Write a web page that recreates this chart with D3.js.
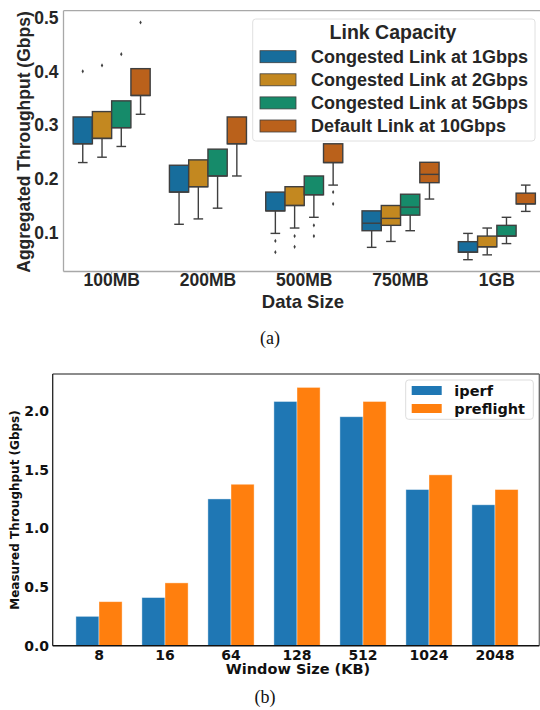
<!DOCTYPE html>
<html><head><meta charset="utf-8">
<script src="https://cdn.jsdelivr.net/npm/d3@7"></script>
<style>body{margin:0;background:#fff}svg{display:block}</style>
</head><body>
<svg id="c" width="540" height="710"></svg>
<script>
// ---------- Chart (a): box plot ----------
const dataSizes = ["100MB", "200MB", "500MB", "750MB", "1GB"];
const linkCapacities = ["Congested Link at 1Gbps", "Congested Link at 2Gbps", "Congested Link at 5Gbps", "Default Link at 10Gbps"];
const boxColors = ["#176d9c", "#c38820", "#168b6a", "#ba611b"];
// rows = link capacity, columns = data size
const whiskerLow = [
  [0.230, 0.115, 0.098, 0.072, 0.049],
  [0.240, 0.125, 0.108, 0.083, 0.058],
  [0.260, 0.145, 0.128, 0.103, 0.079],
  [0.320, 0.205, 0.188, 0.162, 0.139]
];
const q1 = [
  [0.265, 0.175, 0.140, 0.103, 0.063],
  [0.275, 0.185, 0.150, 0.113, 0.073],
  [0.295, 0.205, 0.170, 0.132, 0.093],
  [0.355, 0.265, 0.230, 0.1925, 0.153]
];
const median = [
  [0.265, 0.175, 0.140, 0.117, 0.063],
  [0.275, 0.185, 0.150, 0.126, 0.073],
  [0.295, 0.205, 0.170, 0.147, 0.093],
  [0.355, 0.265, 0.230, 0.208, 0.153]
];
const q3 = [
  [0.315, 0.225, 0.175, 0.140, 0.0826],
  [0.325, 0.235, 0.185, 0.150, 0.093],
  [0.345, 0.255, 0.205, 0.171, 0.113],
  [0.405, 0.315, 0.265, 0.2305, 0.173]
];
const whiskerHigh = [
  [0.315, 0.225, 0.175, 0.140, 0.098],
  [0.325, 0.235, 0.185, 0.150, 0.108],
  [0.345, 0.255, 0.205, 0.171, 0.128],
  [0.405, 0.315, 0.265, 0.2305, 0.188]
];
const outliers = [
  [[0.400], [], [0.084, 0.063], [], []],
  [[0.411], [], [0.093, 0.073], [], []],
  [[0.432], [], [0.113, 0.093], [], []],
  [[0.491], [], [0.175, 0.153], [], []]
];
const yTicksA = [0.1, 0.2, 0.3, 0.4, 0.5];

// ---------- Chart (b): grouped bars ----------
const windowSizes = ["8", "16", "64", "128", "512", "1024", "2048"];
const iperf = [0.25, 0.41, 1.25, 2.08, 1.95, 1.33, 1.20];
const preflight = [0.375, 0.535, 1.375, 2.20, 2.08, 1.455, 1.33];
const barSeries = ["iperf", "preflight"];
const barColors = ["#1f77b4", "#ff7f0e"];
const yTicksB = [0.0, 0.5, 1.0, 1.5, 2.0];

const svg = d3.select("#c");
const fa = "'Liberation Sans', Arial, sans-serif";
const fb = "'DejaVu Sans', sans-serif";

// ===== (a) =====
const A = {l: 63.5, r: 545, t: 10.7, b: 271.5};
const xA = d3.scaleBand().domain(dataSizes).range([A.l, A.r]).padding(0);
const hueA = d3.scaleBand().domain(linkCapacities).range([0, xA.bandwidth() * 0.8]);
const yA = d3.scaleLinear().domain([0.027, 0.513]).range([A.b, A.t]);
const gA = svg.append("g");
const frameCol = "#a8a8a8";
gA.append("line").attr("x1", A.l).attr("x2", A.r).attr("y1", A.t).attr("y2", A.t).attr("stroke", frameCol).attr("stroke-width", 1.3);
gA.append("line").attr("x1", A.l).attr("x2", A.r).attr("y1", A.b).attr("y2", A.b).attr("stroke", frameCol).attr("stroke-width", 1.3);
gA.append("line").attr("x1", A.l).attr("x2", A.l).attr("y1", A.t).attr("y2", A.b).attr("stroke", frameCol).attr("stroke-width", 1.3);
gA.append("line").attr("x1", A.r).attr("x2", A.r).attr("y1", A.t).attr("y2", A.b).attr("stroke", frameCol).attr("stroke-width", 1.3);

const lineCol = "#3f3f3f";
linkCapacities.forEach((h, hi) => {
  dataSizes.forEach((c, ci) => {
    const bw = hueA.bandwidth();
    const x0 = xA(c) + xA.bandwidth() * 0.1 + hueA(h);
    const xc = x0 + bw / 2;
    const g = gA.append("g");
    // whiskers
    g.append("line").attr("x1", xc).attr("x2", xc).attr("y1", yA(q1[hi][ci])).attr("y2", yA(whiskerLow[hi][ci])).attr("stroke", lineCol).attr("stroke-width", 1.4);
    g.append("line").attr("x1", xc).attr("x2", xc).attr("y1", yA(q3[hi][ci])).attr("y2", yA(whiskerHigh[hi][ci])).attr("stroke", lineCol).attr("stroke-width", 1.4);
    g.append("line").attr("x1", xc - bw / 4).attr("x2", xc + bw / 4).attr("y1", yA(whiskerLow[hi][ci])).attr("y2", yA(whiskerLow[hi][ci])).attr("stroke", lineCol).attr("stroke-width", 1.4);
    if (whiskerHigh[hi][ci] > q3[hi][ci])
      g.append("line").attr("x1", xc - bw / 4).attr("x2", xc + bw / 4).attr("y1", yA(whiskerHigh[hi][ci])).attr("y2", yA(whiskerHigh[hi][ci])).attr("stroke", lineCol).attr("stroke-width", 1.4);
    // box
    g.append("rect").attr("x", x0).attr("width", bw).attr("y", yA(q3[hi][ci])).attr("height", yA(q1[hi][ci]) - yA(q3[hi][ci]))
      .attr("fill", boxColors[hi]).attr("stroke", lineCol).attr("stroke-width", 1.4);
    g.append("line").attr("x1", x0).attr("x2", x0 + bw).attr("y1", yA(median[hi][ci])).attr("y2", yA(median[hi][ci])).attr("stroke", lineCol).attr("stroke-width", 1.4);
    // outliers
    outliers[hi][ci].forEach(v => {
      g.append("path").attr("d", d3.symbol(d3.symbolDiamond, 5)()).attr("transform", `translate(${xc},${yA(v)})`).attr("fill", lineCol);
    });
  });
});
// axes text (a)
yTicksA.forEach(t => {
  gA.append("text").attr("x", 58.5).attr("y", yA(t)).attr("dy", "0.36em").attr("text-anchor", "end")
    .attr("font-family", fa).attr("font-weight", "bold").attr("font-size", 17.5).attr("fill", "#262626").text(d3.format(".1f")(t));
});
dataSizes.forEach(c => {
  const xc = xA(c) + xA.bandwidth() / 2;
  gA.append("line").attr("x1", xc).attr("x2", xc).attr("y1", A.b).attr("y2", A.b + 3).attr("stroke", frameCol).attr("stroke-width", 1);
  gA.append("text").attr("x", xc).attr("y", 286).attr("text-anchor", "middle")
    .attr("font-family", fa).attr("font-weight", "bold").attr("font-size", 17.5).attr("fill", "#262626").text(c);
});
gA.append("text").attr("x", 303).attr("y", 307.5).attr("text-anchor", "middle")
  .attr("font-family", fa).attr("font-weight", "bold").attr("font-size", 18.5).attr("fill", "#262626").text("Data Size");
gA.append("text").attr("transform", "translate(29.5,142) rotate(-90)").attr("text-anchor", "middle")
  .attr("font-family", fa).attr("font-weight", "bold").attr("font-size", 17.5).attr("fill", "#262626").text("Aggregated Throughput (Gbps)");
// legend (a)
const LA = gA.append("g");
LA.append("rect").attr("x", 252.7).attr("y", 19).attr("width", 282.3).attr("height", 122).attr("rx", 3)
  .attr("fill", "#fff").attr("fill-opacity", 0.85).attr("stroke", "#e0e0e0").attr("stroke-width", 1);
LA.append("text").attr("x", 393).attr("y", 39).attr("text-anchor", "middle")
  .attr("font-family", fa).attr("font-weight", "bold").attr("font-size", 19.5).attr("fill", "#262626").text("Link Capacity");
linkCapacities.forEach((h, i) => {
  const cy = 56.7 + i * 23.1;
  LA.append("rect").attr("x", 260).attr("y", cy - 6).attr("width", 36).attr("height", 12)
    .attr("fill", boxColors[i]).attr("stroke", lineCol).attr("stroke-width", 0.8);
  LA.append("text").attr("x", 311).attr("y", cy).attr("dy", "0.36em")
    .attr("font-family", fa).attr("font-weight", "bold").attr("font-size", 18).attr("fill", "#262626").text(h);
});
svg.append("text").attr("x", 270).attr("y", 344).attr("text-anchor", "middle")
  .attr("font-family", "'Liberation Serif', 'Times New Roman', serif").attr("font-size", 18).attr("fill", "#111").text("(a)");

// ===== (b) =====
const B = {l: 52.7, r: 539.3, t: 374, b: 645.7};
const xB = d3.scaleBand().domain(windowSizes).range([66, 528]).padding(0);
const subB = d3.scaleBand().domain(barSeries).range([0, xB.bandwidth() * 0.7]);
const yB = d3.scaleLinear().domain([0, 2.314]).range([B.b, B.t]);
const gB = svg.append("g");
const seriesVals = [iperf, preflight];
barSeries.forEach((s, si) => {
  gB.selectAll(null).data(windowSizes).join("rect")
    .attr("x", (d) => xB(d) + xB.bandwidth() * 0.15 + subB(s))
    .attr("width", subB.bandwidth())
    .attr("y", (d, i) => yB(seriesVals[si][i]))
    .attr("height", (d, i) => yB(0) - yB(seriesVals[si][i]))
    .attr("fill", barColors[si]).attr("stroke", "#fff").attr("stroke-opacity", 0.5).attr("stroke-width", 0.8);
});
gB.append("line").attr("x1", B.l).attr("x2", B.r).attr("y1", B.t).attr("y2", B.t).attr("stroke", "#666").attr("stroke-width", 1.3);
gB.append("line").attr("x1", B.r).attr("x2", B.r).attr("y1", B.t).attr("y2", B.b).attr("stroke", "#666").attr("stroke-width", 1.3);
gB.append("line").attr("x1", B.l).attr("x2", B.l).attr("y1", B.t).attr("y2", B.b).attr("stroke", "#222").attr("stroke-width", 1.3);
gB.append("line").attr("x1", B.l).attr("x2", B.r).attr("y1", B.b).attr("y2", B.b).attr("stroke", "#111").attr("stroke-width", 1.4);
yTicksB.forEach(t => {
  gB.append("text").attr("x", 49).attr("y", yB(t)).attr("dy", "0.36em").attr("text-anchor", "end")
    .attr("font-family", fb).attr("font-weight", "bold").attr("font-size", 14).attr("fill", "#111").text(d3.format(".1f")(t));
});
windowSizes.forEach(w => {
  gB.append("text").attr("x", xB(w) + xB.bandwidth() / 2).attr("y", 654.5).attr("dy", "0.36em").attr("text-anchor", "middle")
    .attr("font-family", fb).attr("font-weight", "bold").attr("font-size", 14).attr("fill", "#111").text(w);
});
gB.append("text").attr("x", 298).attr("y", 669).attr("dy", "0.36em").attr("text-anchor", "middle")
  .attr("font-family", fb).attr("font-weight", "bold").attr("font-size", 14.5).attr("fill", "#111").text("Window Size (KB)");
gB.append("text").attr("transform", "translate(15,510) rotate(-90)").attr("dy", "0.36em").attr("text-anchor", "middle")
  .attr("font-family", fb).attr("font-weight", "bold").attr("font-size", 12).attr("fill", "#111").text("Measured Throughput (Gbps)");
// legend (b)
const LB = gB.append("g");
LB.append("rect").attr("x", 405.7).attr("y", 380).attr("width", 127.6).attr("height", 39.3).attr("rx", 3)
  .attr("fill", "#fff").attr("fill-opacity", 0.85).attr("stroke", "#ddd").attr("stroke-width", 1);
barSeries.forEach((s, i) => {
  const cy = 390.5 + i * 18;
  LB.append("rect").attr("x", 411.7).attr("y", cy - 4.5).attr("width", 30).attr("height", 9).attr("fill", barColors[i]);
  LB.append("text").attr("x", 454.3).attr("y", cy).attr("dy", "0.36em")
    .attr("font-family", fb).attr("font-weight", "bold").attr("font-size", 14.5).attr("fill", "#111").text(s);
});
svg.append("text").attr("x", 265).attr("y", 703).attr("text-anchor", "middle")
  .attr("font-family", "'Liberation Serif', 'Times New Roman', serif").attr("font-size", 18).attr("fill", "#111").text("(b)");
</script>
</body></html>
